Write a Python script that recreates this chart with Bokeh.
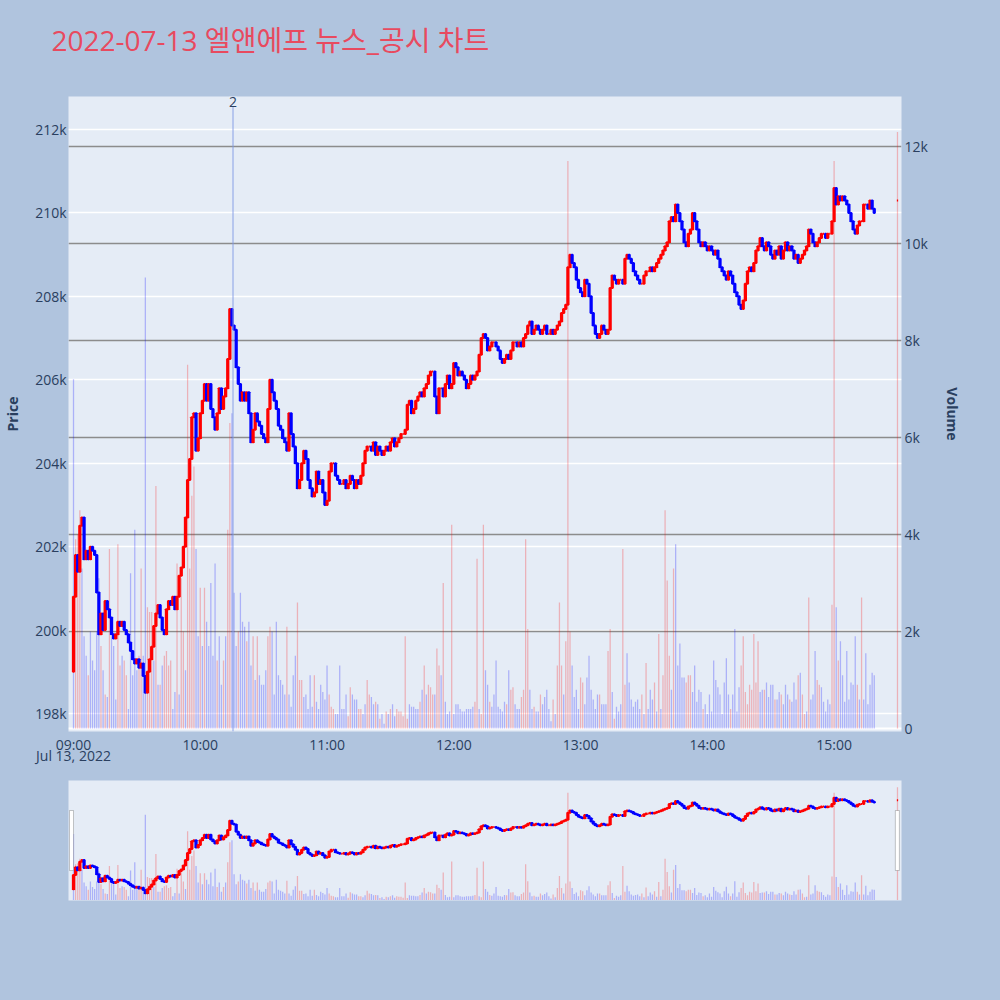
import pandas as pd
from bokeh.plotting import figure
from bokeh.layouts import column
from bokeh.models import (Range1d, LinearAxis, FixedTicker, DatetimeTickFormatter,
                          CustomJSTickFormatter, Span, Label, BoxAnnotation, Grid, Title)
from bokeh.embed import file_html
from bokeh.resources import INLINE

# 1-minute closes 09:00..15:19, in units of 100 KRW
close_h = [
    2008, 2018, 2014, 2025, 2027, 2017, 2019, 2017, 2020, 2019,
    2018, 2009, 1999, 2004, 2000, 2007, 2005, 2003, 1999, 1998,
    1999, 2002, 2001, 2002, 2000, 1999, 1997, 1995, 1993, 1992,
    1993, 1991, 1992, 1989, 1985, 1990, 1993, 1996, 2001, 2004,
    2006, 2003, 2000, 1999, 2005, 2007, 2006, 2008, 2005, 2008,
    2013, 2015, 2020, 2027, 2036, 2041, 2051, 2052, 2043, 2046,
    2052, 2055, 2059, 2055, 2059, 2053, 2051, 2048, 2052, 2058,
    2053, 2056, 2058, 2065, 2077, 2073, 2072, 2063, 2059, 2055,
    2057, 2055, 2057, 2052, 2045, 2048, 2052, 2050, 2049, 2047,
    2046, 2045, 2053, 2060, 2057, 2055, 2053, 2049, 2048, 2046,
    2045, 2043, 2052, 2047, 2044, 2040, 2034, 2036, 2040, 2043,
    2041, 2036, 2034, 2032, 2033, 2038, 2035, 2036, 2033, 2030,
    2031, 2038, 2040, 2040, 2037, 2036, 2035, 2035, 2036, 2034,
    2035, 2037, 2036, 2034, 2036, 2035, 2037, 2040, 2043, 2044,
    2044, 2043, 2045, 2042, 2044, 2043, 2042, 2043, 2044, 2043,
    2045, 2046, 2044, 2045, 2046, 2047, 2047, 2048, 2054, 2055,
    2052, 2053, 2055, 2056, 2057, 2056, 2058, 2059, 2061, 2062,
    2062, 2056, 2052, 2058, 2058, 2056, 2059, 2061, 2058, 2059,
    2064, 2063, 2061, 2062, 2061, 2060, 2058, 2059, 2061, 2060,
    2061, 2062, 2066, 2070, 2071, 2070, 2067, 2068, 2069, 2069,
    2068, 2067, 2065, 2064, 2065, 2066, 2065, 2067, 2069, 2069,
    2068, 2069, 2068, 2070, 2071, 2073, 2074, 2071, 2072, 2073,
    2072, 2071, 2072, 2073, 2071, 2071, 2072, 2071, 2072, 2073,
    2074, 2076, 2077, 2078, 2087, 2090, 2088, 2087, 2084, 2082,
    2081, 2080, 2084, 2083, 2080, 2076, 2073, 2071, 2070, 2071,
    2073, 2072, 2071, 2072, 2082, 2085, 2084, 2083, 2084, 2084,
    2083, 2089, 2090, 2089, 2088, 2086, 2085, 2084, 2083, 2083,
    2085, 2086, 2086, 2087, 2086, 2087, 2088, 2089, 2090, 2091,
    2092, 2093, 2098, 2099, 2098, 2102, 2100, 2098, 2096, 2093,
    2092, 2095, 2096, 2100, 2098, 2096, 2093, 2092, 2093, 2092,
    2091, 2092, 2091, 2090, 2091, 2089, 2087, 2086, 2085, 2084,
    2086, 2085, 2083, 2081, 2080, 2078, 2077, 2079, 2083, 2086,
    2087, 2086, 2088, 2091, 2092, 2094, 2092, 2091, 2093, 2092,
    2090, 2089, 2091, 2090, 2092, 2089, 2091, 2093, 2091, 2092,
    2091, 2089, 2090, 2088, 2089, 2090, 2091, 2092, 2096, 2095,
    2093, 2092, 2093, 2094, 2095, 2095, 2094, 2095, 2095, 2098,
    2106, 2102, 2104, 2103, 2104, 2103, 2102, 2100, 2098, 2096,
    2095, 2097, 2098, 2098, 2102, 2102, 2101, 2103, 2101, 2100,
]
first_open_h = 1990
close_1530_h = 2103

volume = [
    7200, 3900, 4000, 4500, 3300, 1900, 1500, 1100, 2000, 1400,
    1200, 2000, 3100, 1700, 1200, 700, 650, 3700, 1900, 1700,
    600, 3800, 1300, 1500, 1400, 1100, 400, 3200, 1100, 4100,
    1200, 1500, 3300, 1500, 9300, 2500, 2400, 2400, 1400, 5000,
    900, 900, 1300, 1500, 1600, 1300, 1400, 400, 750, 3400,
    700, 3100, 2000, 1200, 7500, 3300, 4800, 5400, 3700, 1900,
    2900, 1700, 2900, 2200, 1700, 3000, 1500, 3400, 1400, 1900,
    900, 1400, 1900, 4100, 6300, 6500, 2800, 1700, 2000, 2800,
    2200, 2100, 1800, 2200, 1300, 1900, 1000, 1900, 1100, 900,
    900, 1200, 1900, 2100, 2000, 700, 2200, 1100, 1000, 900,
    700, 2100, 700, 450, 1100, 1500, 2600, 1000, 1000, 650,
    700, 400, 1100, 450, 1100, 550, 400, 900, 750, 600,
    1300, 700, 450, 400, 300, 300, 1300, 400, 400, 700,
    250, 850, 700, 600, 600, 400, 400, 300, 500, 1000,
    700, 650, 500, 550, 500, 200, 300, 100, 350, 300,
    400, 500, 250, 400, 350, 350, 250, 1900, 200, 500,
    450, 450, 400, 400, 550, 800, 1300, 700, 900, 850,
    700, 700, 1650, 1300, 1100, 3000, 550, 300, 350, 4200,
    300, 500, 500, 400, 350, 350, 400, 400, 400, 450,
    550, 3500, 400, 300, 4200, 1200, 900, 550, 450, 700,
    1400, 450, 400, 350, 550, 500, 1200, 800, 850, 500,
    400, 400, 650, 800, 3900, 2050, 800, 400, 450, 350,
    350, 700, 500, 650, 800, 400, 150, 600, 300, 1300,
    2600, 1300, 700, 1800, 11700, 2000, 1300, 650, 800, 400,
    1050, 950, 500, 1050, 1500, 800, 600, 400, 700, 700,
    500, 500, 500, 1600, 2050, 750, 200, 450, 350, 500,
    3700, 900, 1550, 950, 600, 450, 550, 600, 400, 700,
    300, 1350, 400, 800, 600, 950, 350, 1950, 400, 1100,
    4500, 3050, 1500, 800, 3300, 3800, 1300, 1750, 1050, 1050,
    950, 1100, 1100, 750, 1300, 550, 800, 750, 400, 500,
    300, 700, 350, 1400, 1000, 850, 700, 300, 950, 1450,
    700, 400, 700, 2050, 350, 850, 1300, 1900, 750, 500,
    900, 800, 1950, 950, 1800, 750, 800, 800, 950, 650,
    900, 900, 600, 600, 750, 700, 500, 900, 700, 600,
    550, 950, 600, 1100, 1150, 700, 300, 350, 2700, 600,
    700, 1600, 1000, 900, 850, 550, 350, 600, 500, 2550,
    11700, 2500, 1400, 1800, 1100, 550, 1600, 600, 950, 900,
    1900, 900, 600, 2700, 600, 1550, 500, 900, 1150, 1100,
]
volume_1530 = 12300

# 1 = red (up) volume bar, 0 = blue
vol_up = [
    0, 1, 1, 1, 0, 0, 0, 1, 0, 0,  0, 0, 0, 1, 0, 1, 0, 1, 0, 0,
    0, 1, 1, 0, 1, 1, 0, 0, 0, 0,  0, 1, 1, 0, 0, 1, 1, 1, 0, 1,
    0, 1, 0, 1, 1, 1, 1, 0, 0, 1,  0, 1, 1, 0, 1, 1, 1, 1, 0, 0,
    1, 0, 1, 0, 0, 0, 0, 0, 1, 0,  0, 1, 0, 1, 1, 0, 0, 0, 1, 0,
    0, 0, 1, 0, 0, 1, 0, 1, 0, 0,  0, 0, 1, 1, 0, 0, 0, 0, 0, 0,
    0, 1, 0, 0, 0, 0, 1, 1, 1, 0,  0, 0, 0, 0, 1, 0, 0, 0, 0, 0,
    0, 1, 1, 1, 0, 0, 0, 0, 0, 0,  1, 1, 0, 0, 0, 1, 1, 0, 0, 1,
    1, 0, 0, 1, 0, 1, 0, 0, 1, 0,  1, 0, 0, 1, 1, 1, 1, 1, 1, 0,
    0, 0, 0, 0, 1, 0, 1, 0, 1, 1,  1, 0, 1, 1, 0, 1, 0, 0, 0, 1,
    0, 0, 0, 0, 0, 0, 0, 0, 0, 0,  1, 1, 0, 1, 1, 0, 0, 1, 0, 0,
    0, 0, 0, 0, 0, 1, 0, 1, 1, 0,  0, 0, 1, 1, 1, 1, 0, 0, 1, 0,
    0, 1, 0, 0, 0, 0, 0, 1, 0, 1,  1, 1, 0, 1, 1, 1, 0, 0, 0, 0,
    1, 1, 0, 0, 0, 0, 0, 0, 0, 1,  0, 0, 0, 1, 1, 0, 1, 0, 0, 0,
    1, 1, 0, 0, 0, 0, 0, 0, 0, 1,  0, 1, 0, 0, 0, 1, 0, 1, 0, 1,
    1, 1, 1, 0, 1, 0, 0, 0, 0, 0,  1, 1, 1, 0, 0, 0, 0, 0, 1, 0,
    0, 0, 0, 0, 0, 0, 0, 0, 0, 0,  0, 1, 0, 0, 0, 0, 1, 1, 1, 1,
    1, 1, 1, 1, 1, 0, 0, 1, 0, 0,  0, 0, 1, 0, 0, 1, 0, 0, 0, 1,
    0, 0, 0, 1, 0, 1, 1, 0, 1, 0,  0, 0, 1, 1, 0, 0, 0, 0, 0, 1,
    1, 0, 1, 0, 0, 0, 0, 0, 0, 0,  0, 1, 0, 1, 0, 0, 0, 0, 0, 0,
]
vol_up_1530 = 1

news_time = pd.Timestamp("2022-07-13 10:15:30")
news_count = "2"

price_ticks = [198000, 200000, 202000, 204000, 206000, 208000, 210000, 212000]
volume_ticks = [0, 2000, 4000, 6000, 8000, 10000, 12000]
hour_ticks = ["09:00", "10:00", "11:00", "12:00", "13:00", "14:00", "15:00"]
date_label = "Jul 13, 2022"

assert len(close_h) == len(volume) == len(vol_up)

# ---- build candles
day = pd.Timestamp("2022-07-13 09:00")
times = list(pd.date_range(day, periods=len(close_h), freq="min")) + [pd.Timestamp("2022-07-13 15:30")]
closes = [c * 100 for c in close_h] + [close_1530_h * 100]
opens = [first_open_h * 100] + [c * 100 for c in close_h[:-1]] + [close_1530_h * 100]
tops = [max(o, c) for o, c in zip(opens, closes)]
bots = [min(o, c) for o, c in zip(opens, closes)]
ccol = ["#ff0000" if c >= o else "#0000ff" for o, c in zip(opens, closes)]
vols = volume + [volume_1530]
vcol = ["#ff0000" if u else "#0000ff" for u in vol_up + [vol_up_1530]]


def ms(t):
    return t.value / 1e6


MIN = 60000.0
t0 = ms(day)
x_range = (t0 - 2.37 * MIN, t0 + 391.9 * MIN)
price_range = (197569, 212791)
vol_range = (-62, 13031)

BG = "#b0c4de"
PLOT_BG = "#e5ecf6"
FONT = "Open Sans, Noto Sans CJK KR"
TXT = "#2a3f5f"


def draw_series(fig):
    fig.vbar(x=times, width=0.6 * MIN, top=vols, bottom=0, y_range_name="vol",
             fill_color=vcol, fill_alpha=0.25, line_color=None)
    fig.vbar(x=times, width=0.6 * MIN, top=tops, bottom=bots,
             fill_color=ccol, line_color=ccol, line_width=2)


# ---- main chart
p = figure(frame_width=833, frame_height=635, x_axis_type="datetime",
           x_range=Range1d(*x_range), y_range=Range1d(*price_range),
           output_backend="svg", toolbar_location=None,
           min_border_left=68, min_border_right=99, min_border_top=96, min_border_bottom=42)
p.extra_y_ranges = {"vol": Range1d(*vol_range)}
p.background_fill_color = PLOT_BG
p.border_fill_color = BG
p.outline_line_color = None

p.title.text = "2022-07-13 엘앤에프 뉴스_공시 차트"
p.title.text_font = FONT
p.title.text_font_size = "28px"
p.title.text_font_style = "normal"
p.title.text_color = "#e84a5f"
p.title.offset = -17
p.title.standoff = 0
# blank spacer between the title and the plot area
p.add_layout(Title(text=" ", text_font_size="14px", standoff=20), "above")

p.xgrid.visible = False
p.ygrid.ticker = FixedTicker(ticks=price_ticks)
p.ygrid.grid_line_color = "white"
p.ygrid.grid_line_width = 1.3

vgrid = Grid(dimension=1, y_range_name="vol", ticker=FixedTicker(ticks=volume_ticks[1:]),
             grid_line_color="#8c8c8c", grid_line_width=1.3)
p.add_layout(vgrid)
p.add_layout(Span(location=0, dimension="width", y_range_name="vol",
                  line_color="white", line_width=2, level="underlay"))


def style_axis(ax):
    ax.axis_line_color = None
    ax.major_tick_line_color = None
    ax.minor_tick_line_color = None
    ax.major_tick_out = 0
    ax.major_tick_in = 0
    ax.minor_tick_out = 0
    ax.major_label_text_font = FONT
    ax.major_label_text_font_size = "14px"
    ax.major_label_text_color = TXT
    ax.axis_label_text_font = FONT
    ax.axis_label_text_font_size = "14px"
    ax.axis_label_text_font_style = "bold"
    ax.axis_label_text_color = TXT


yax = p.yaxis[0]
yax.ticker = FixedTicker(ticks=price_ticks)
yax.formatter = CustomJSTickFormatter(code="return (tick/1000).toFixed(0) + 'k';")
yax.axis_label = "Price"
yax.axis_label_standoff = 10
yax.major_label_standoff = 2
style_axis(yax)

vax = LinearAxis(y_range_name="vol", ticker=FixedTicker(ticks=volume_ticks),
                 formatter=CustomJSTickFormatter(code="return tick == 0 ? '0' : (tick/1000).toFixed(0) + 'k';"),
                 axis_label="Volume", axis_label_standoff=12, major_label_standoff=3)
style_axis(vax)
p.add_layout(vax, "right")

xax = p.xaxis[0]
hour_ms = [ms(pd.Timestamp("2022-07-13 " + h)) for h in hour_ticks]
xax.ticker = FixedTicker(ticks=hour_ms)
xax.formatter = DatetimeTickFormatter(hours="%H:%M", minutes="%H:%M")
xax.major_label_overrides = {hour_ms[0]: hour_ticks[0] + "\n" + date_label}
xax.major_label_text_line_height = 0.6
xax.major_label_standoff = 3
style_axis(xax)

draw_series(p)

nt = ms(news_time)
p.add_layout(Span(location=nt, dimension="height", line_color="#7f9ae6",
                  line_alpha=0.5, line_width=1.8))
p.add_layout(Label(x=nt, y=price_range[1], text=news_count, text_align="center",
                   text_baseline="top", y_offset=0, text_font=FONT, text_font_size="14px",
                   text_color=TXT, background_fill_color=PLOT_BG))

# ---- range slider overview
s = figure(frame_width=833, frame_height=120, x_axis_type="datetime",
           x_range=Range1d(*x_range), y_range=Range1d(*price_range),
           output_backend="svg", toolbar_location=None,
           min_border_left=68, min_border_right=99, min_border_top=7, min_border_bottom=96)
s.extra_y_ranges = {"vol": Range1d(*vol_range)}
s.background_fill_color = PLOT_BG
s.border_fill_color = BG
s.outline_line_color = None
s.xaxis.visible = False
s.yaxis.visible = False
s.grid.visible = False
draw_series(s)

span_p = price_range[1] - price_range[0]
for lo, hi in [(-1.9, 0.0), (389.0, 390.9)]:
    s.add_layout(BoxAnnotation(left=t0 + lo * MIN, right=t0 + hi * MIN,
                               bottom=price_range[0] + 0.25 * span_p,
                               top=price_range[0] + 0.75 * span_p,
                               fill_color="white", fill_alpha=1.0,
                               line_color="#444444", line_width=1, level="overlay"))

layout = column(p, s)
html = file_html(layout, INLINE)
html = html.replace("</head>", "<style>body{background:#b0c4de;}</style></head>", 1)
open("out.html", "w").write(html)
